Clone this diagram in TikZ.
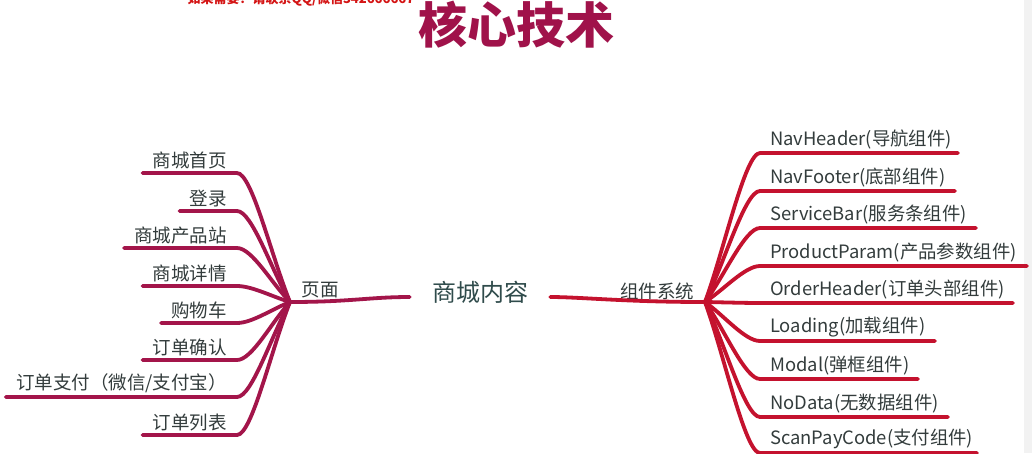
\documentclass[tikz,border=0pt]{standalone}
\usepackage{fontspec}
\setmainfont{Noto Sans CJK SC}
\usetikzlibrary{calc}
\definecolor{leftc}{HTML}{A3154A}
\definecolor{rightc}{HTML}{C4122E}
\definecolor{titlec}{HTML}{A0124A}
\definecolor{txtc}{HTML}{333C3C}
\definecolor{centc}{HTML}{2F4B4B}
\definecolor{wmc}{HTML}{D41414}
\begin{document}
\begin{tikzpicture}[x=1pt,y=-1pt,
  lbl/.style={font=\fontsize{18.5}{21}\selectfont, text=txtc, inner xsep=10pt, inner ysep=4pt},
  rlbl/.style={font=\fontsize{18.4}{21}\selectfont, text=txtc, inner xsep=10pt, inner ysep=4pt},
  lline/.style={draw=leftc, line width=3.8pt, line cap=round},
  rline/.style={draw=rightc, line width=3.8pt, line cap=round}]
\useasboundingbox (0,0) rectangle (1032,453);
\fill[white] (0,0) rectangle (1032,453);
\fill[gray!10] (1024,0) rectangle (1032,453);

\node[font=\bfseries\fontsize{49}{52}\selectfont, text=titlec] (title) at (516,25) {核心技术};
\node[font=\bfseries\fontsize{13}{15}\selectfont, text=wmc] (wm) at (301,-1) {如果需要？请联系QQ/微信342666667};

\coordinate (lhub) at (290,302);
\coordinate (rhub) at (705,302);

\node[font=\fontsize{24}{28}\selectfont, text=centc, inner xsep=22pt] (c) at (480,292) {商城内容};
\node[lbl, inner xsep=0pt] (p) at (320,290) {页面};
\node[lbl, inner xsep=0pt] (s) at (657,291) {组件系统};

\draw[lline] (lhub) .. controls +(60,0) and +(-40,0) .. ([yshift=-5pt]c.west);
\draw[rline] ([yshift=-5pt]c.east) .. controls +(30,0) and +(-80,0) .. (rhub);

% left branches
\node[lbl, anchor=south east] (l1) at (237,173) {商城首页};
\node[lbl, anchor=south east] (l2) at (237,211) {登录};
\node[lbl, anchor=south east] (l3) at (237,248) {商城产品站};
\node[lbl, anchor=south east] (l4) at (237,286) {商城详情};
\node[lbl, anchor=south east] (l5) at (237,323) {购物车};
\node[lbl, anchor=south east] (l6) at (237,360) {订单确认};
\node[lbl, anchor=south east] (l7) at (237,397) {订单支付（微信/支付宝）};
\node[lbl, anchor=south east] (l8) at (237,435) {订单列表};

\draw[lline] (l1.south west) -- (l1.south east) .. controls +(15,0) and ($(lhub)!0.35!(l1.south east)$) .. (lhub);
\draw[lline] (l2.south west) -- (l2.south east) .. controls +(15,0) and ($(lhub)!0.35!(l2.south east)$) .. (lhub);
\draw[lline] (l3.south west) -- (l3.south east) .. controls +(15,0) and ($(lhub)!0.35!(l3.south east)$) .. (lhub);
\draw[lline] (l4.south west) -- (l4.south east) .. controls +(15,0) and ($(lhub)!0.35!(l4.south east)$) .. (lhub);
\draw[lline] (l5.south west) -- (l5.south east) .. controls +(15,0) and ($(lhub)!0.35!(l5.south east)$) .. (lhub);
\draw[lline] (l6.south west) -- (l6.south east) .. controls +(15,0) and ($(lhub)!0.35!(l6.south east)$) .. (lhub);
\draw[lline] (l7.south west) -- (l7.south east) .. controls +(15,0) and ($(lhub)!0.35!(l7.south east)$) .. (lhub);
\draw[lline] (l8.south west) -- (l8.south east) .. controls +(15,0) and ($(lhub)!0.35!(l8.south east)$) .. (lhub);

% right branches
\node[rlbl, anchor=south west] (r1) at (760,153) {NavHeader(导航组件)};
\node[rlbl, anchor=south west] (r2) at (760,191) {NavFooter(底部组件)};
\node[rlbl, anchor=south west] (r3) at (760,228) {ServiceBar(服务条组件)};
\node[rlbl, anchor=south west] (r4) at (760,266) {ProductParam(产品参数组件)};
\node[rlbl, anchor=south west] (r5) at (760,303) {OrderHeader(订单头部组件)};
\node[rlbl, anchor=south west] (r6) at (760,341) {Loading(加载组件)};
\node[rlbl, anchor=south west] (r7) at (760,379) {Modal(弹框组件)};
\node[rlbl, anchor=south west] (r8) at (760,417) {NoData(无数据组件)};
\node[rlbl, anchor=south west] (r9) at (760,453) {ScanPayCode(支付组件)};

\coordinate (e1) at (958,153);
\coordinate (e2) at (955,191);
\coordinate (e3) at (976,228);
\coordinate (e4) at (1027,266);
\coordinate (e5) at (1013,303);
\coordinate (e6) at (935,341);
\coordinate (e7) at (918,379);
\coordinate (e8) at (948,417);
\coordinate (e9) at (977,453);

\draw[rline] (rhub) .. controls ($(rhub)!0.35!(r1.south west)$) and +(-15,0) .. (r1.south west) -- (e1);
\draw[rline] (rhub) .. controls ($(rhub)!0.35!(r2.south west)$) and +(-15,0) .. (r2.south west) -- (e2);
\draw[rline] (rhub) .. controls ($(rhub)!0.35!(r3.south west)$) and +(-15,0) .. (r3.south west) -- (e3);
\draw[rline] (rhub) .. controls ($(rhub)!0.35!(r4.south west)$) and +(-15,0) .. (r4.south west) -- (e4);
\draw[rline] (rhub) .. controls ($(rhub)!0.35!(r5.south west)$) and +(-15,0) .. (r5.south west) -- (e5);
\draw[rline] (rhub) .. controls ($(rhub)!0.35!(r6.south west)$) and +(-15,0) .. (r6.south west) -- (e6);
\draw[rline] (rhub) .. controls ($(rhub)!0.35!(r7.south west)$) and +(-15,0) .. (r7.south west) -- (e7);
\draw[rline] (rhub) .. controls ($(rhub)!0.35!(r8.south west)$) and +(-15,0) .. (r8.south west) -- (e8);
\draw[rline] (rhub) .. controls ($(rhub)!0.35!(r9.south west)$) and +(-15,0) .. (r9.south west) -- (e9);
\end{tikzpicture}
\end{document}
